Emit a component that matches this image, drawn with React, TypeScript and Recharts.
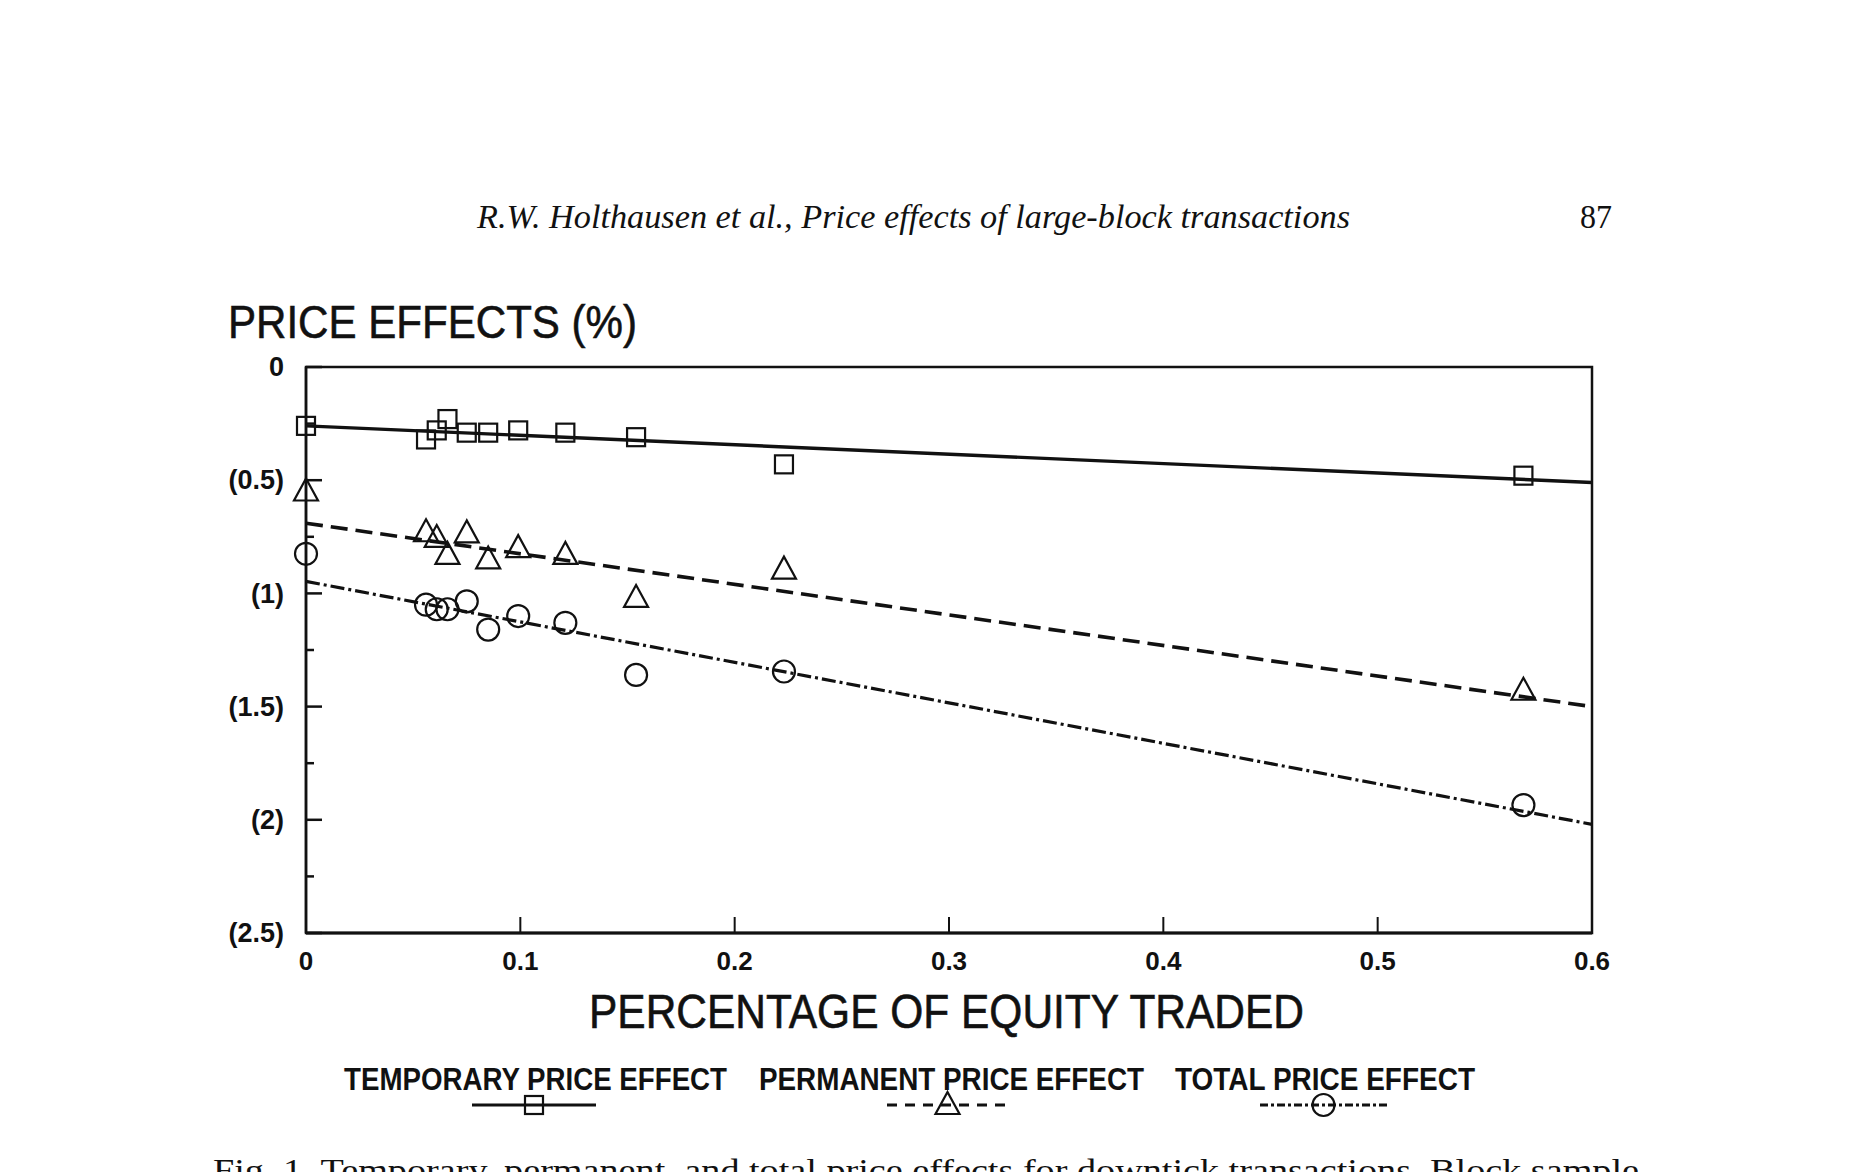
import React from 'react';
import { ScatterChart, Scatter, XAxis, YAxis, ReferenceArea } from 'recharts';

// share of equity traded per block group
const equityTraded = [0, 0.056, 0.061, 0.066, 0.075, 0.085, 0.099, 0.121, 0.154, 0.223, 0.568];

// observed price effects (%), negative = price drop
const temporaryEffect = [-0.26, -0.32, -0.28, -0.23, -0.29, -0.29, -0.28, -0.29, -0.31, -0.43, -0.48];
const permanentEffect = [-0.55, -0.73, -0.755, -0.83, -0.735, -0.85, -0.8, -0.83, -1.02, -0.895, -1.43];
const totalEffect = [-0.825, -1.05, -1.07, -1.07, -1.035, -1.16, -1.1, -1.13, -1.36, -1.345, -1.935];

// fitted regression lines, endpoints at 0 and 0.6
const fitRange = [0, 0.6];
const temporaryFit = [-0.26, -0.51];
const permanentFit = [-0.69, -1.5];
const totalFit = [-0.947, -2.02];

const xTicks = [0, 0.1, 0.2, 0.3, 0.4, 0.5, 0.6];
const yTicks = [-2.5, -2.25, -2, -1.75, -1.5, -1.25, -1, -0.75, -0.5, -0.25, 0];

const legendLabels = ['TEMPORARY PRICE EFFECT', 'PERMANENT PRICE EFFECT', 'TOTAL PRICE EFFECT'];

const INK = '#111';
const SANS = '"Liberation Sans", Arial, Helvetica, sans-serif';
const SERIF = '"Liberation Serif", "Times New Roman", serif';

const DASH = '17 8';
const DASH_DOT = '14 4 3 4';

const toPoints = (xs: number[], ys: number[]) => xs.map((x, i) => ({ x, y: ys[i] }));

const Square = ({ cx, cy }: any) => (
  <rect x={cx - 9} y={cy - 9} width={18} height={18} fill="none" stroke={INK} strokeWidth={2.2} />
);

const Triangle = ({ cx, cy }: any) => (
  <polygon
    points={`${cx},${cy - 13} ${cx - 12},${cy + 9} ${cx + 12},${cy + 9}`}
    fill="none"
    stroke={INK}
    strokeWidth={2.2}
  />
);

const Circle = ({ cx, cy }: any) => <circle cx={cx} cy={cy} r={11} fill="none" stroke={INK} strokeWidth={2.2} />;

const Nothing = () => <g />;

const YTick = ({ x, y, payload }: any) => {
  const v = payload.value;
  const major = Math.abs(v * 2 - Math.round(v * 2)) < 1e-6;
  const label = v === 0 ? '0' : `(${Math.abs(v)})`;
  return (
    <g>
      <line x1={x} x2={x + (major ? 16 : 8)} y1={y} y2={y} stroke={INK} strokeWidth={2.5} />
      {major && (
        <text x={x - 22} y={y + 2} textAnchor="end" dominantBaseline="middle" fontFamily={SANS} fontWeight="bold" fontSize={27} fill={INK}>
          {label}
        </text>
      )}
    </g>
  );
};

const XTick = ({ x, y, payload }: any) => {
  const v = payload.value;
  const inner = v > 0 && v < 0.6;
  return (
    <g>
      {inner && <line x1={x} x2={x} y1={y} y2={y - 16} stroke={INK} strokeWidth={2} />}
      <text x={x} y={y + 30} textAnchor="middle" dominantBaseline="middle" fontFamily={SANS} fontWeight="bold" fontSize={26} fill={INK}>
        {String(v)}
      </text>
    </g>
  );
};

const LegendKey = ({ x1, x2, y, dash, Marker }: any) => (
  <g>
    <line x1={x1} x2={x2} y1={y} y2={y} stroke={INK} strokeWidth={3} strokeDasharray={dash} />
    <Marker cx={(x1 + x2) / 2} cy={y} />
  </g>
);

export default function App() {
  return (
    <div style={{ position: 'absolute', left: 0, top: 0, width: 1859, height: 1172, background: '#fff', overflow: 'hidden' }}>
      <ScatterChart width={1859} height={1172} margin={{ top: 367, right: 267, bottom: 199, left: 246 }}>
        <XAxis
          type="number"
          dataKey="x"
          domain={[0, 0.6]}
          ticks={xTicks}
          tick={<XTick />}
          tickLine={false}
          tickSize={0}
          tickMargin={0}
          height={40}
          axisLine={{ stroke: INK, strokeWidth: 3 }}
        />
        <YAxis
          type="number"
          dataKey="y"
          domain={[-2.5, 0]}
          ticks={yTicks}
          tick={<YTick />}
          tickLine={false}
          tickSize={0}
          tickMargin={0}
          width={60}
          interval={0}
          axisLine={{ stroke: INK, strokeWidth: 2.5 }}
        />
        <ReferenceArea x1={0} x2={0.6} y1={-2.5} y2={0} fill="none" stroke={INK} strokeWidth={2.5} ifOverflow="visible" />

        <Scatter
          data={toPoints(fitRange, temporaryFit)}
          dataKey="y"
          line={{ stroke: INK, strokeWidth: 3.4 }}
          shape={<Nothing />}
          isAnimationActive={false}
        />
        <Scatter
          data={toPoints(fitRange, permanentFit)}
          dataKey="y"
          line={{ stroke: INK, strokeWidth: 3.6, strokeDasharray: DASH }}
          shape={<Nothing />}
          isAnimationActive={false}
        />
        <Scatter
          data={toPoints(fitRange, totalFit)}
          dataKey="y"
          line={{ stroke: INK, strokeWidth: 3.2, strokeDasharray: DASH_DOT }}
          shape={<Nothing />}
          isAnimationActive={false}
        />

        <Scatter data={toPoints(equityTraded, temporaryEffect)} dataKey="y" shape={<Square />} isAnimationActive={false} />
        <Scatter data={toPoints(equityTraded, permanentEffect)} dataKey="y" shape={<Triangle />} isAnimationActive={false} />
        <Scatter data={toPoints(equityTraded, totalEffect)} dataKey="y" shape={<Circle />} isAnimationActive={false} />
      </ScatterChart>

      <svg width={1859} height={1172} style={{ position: 'absolute', left: 0, top: 0, pointerEvents: 'none' }}>
        <text x={477} y={228} fontFamily={SERIF} fontStyle="italic" fontSize={33} fill={INK} textLength={873} lengthAdjust="spacingAndGlyphs">
          R.W. Holthausen et al., Price effects of large-block transactions
        </text>
        <text x={1580} y={228} fontFamily={SERIF} fontSize={33} fill={INK} textLength={32} lengthAdjust="spacingAndGlyphs">
          87
        </text>

        <text x={228} y={338} fontFamily={SANS} fontSize={47} fill={INK} stroke={INK} strokeWidth={0.6} textLength={409} lengthAdjust="spacingAndGlyphs">
          PRICE EFFECTS (%)
        </text>

        <text x={589} y={1028} fontFamily={SANS} fontSize={48} fill={INK} stroke={INK} strokeWidth={0.6} textLength={715} lengthAdjust="spacingAndGlyphs">
          PERCENTAGE OF EQUITY TRADED
        </text>

        <text x={344} y={1090} fontFamily={SANS} fontWeight="bold" fontSize={32} fill={INK} textLength={383} lengthAdjust="spacingAndGlyphs">
          {legendLabels[0]}
        </text>
        <text x={759} y={1090} fontFamily={SANS} fontWeight="bold" fontSize={32} fill={INK} textLength={385} lengthAdjust="spacingAndGlyphs">
          {legendLabels[1]}
        </text>
        <text x={1175} y={1090} fontFamily={SANS} fontWeight="bold" fontSize={32} fill={INK} textLength={300} lengthAdjust="spacingAndGlyphs">
          {legendLabels[2]}
        </text>

        <LegendKey x1={472} x2={596} y={1105} Marker={Square} />
        <LegendKey x1={887} x2={1008} y={1105} dash="10 8" Marker={Triangle} />
        <LegendKey x1={1260} x2={1387} y={1105} dash="8 3 3 3" Marker={Circle} />

        <text x={213} y={1181} fontFamily={SERIF} fontSize={31} fill={INK} textLength={1426} lengthAdjust="spacingAndGlyphs">
          Fig. 1. Temporary, permanent, and total price effects for downtick transactions. Block sample
        </text>
      </svg>
    </div>
  );
}
